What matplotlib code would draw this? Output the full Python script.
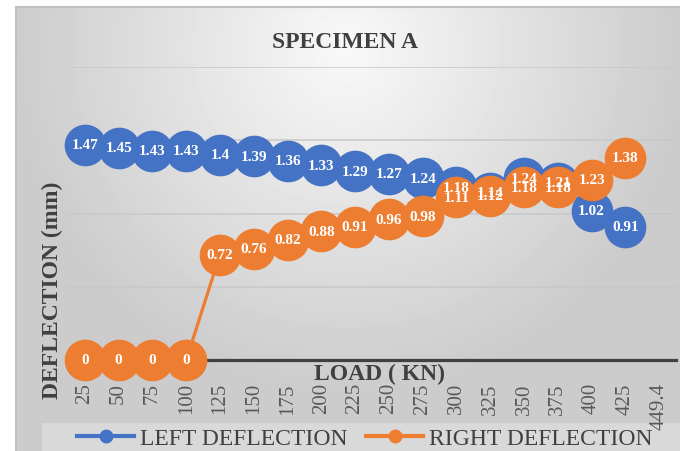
import numpy as np
import matplotlib
matplotlib.use("Agg")
import matplotlib.pyplot as plt
from matplotlib.patches import Rectangle
from matplotlib.lines import Line2D

plt.rcParams['font.family'] = ['Liberation Serif', 'DejaVu Serif']

# load steps (kN) and deflections (mm)
loads = ['25', '50', '75', '100', '125', '150', '175', '200', '225', '250',
         '275', '300', '325', '350', '375', '400', '425', '449.4']
left_defl = [1.47, 1.45, 1.43, 1.43, 1.4, 1.39, 1.36, 1.33, 1.29, 1.27,
             1.24, 1.18, 1.14, 1.24, 1.21, 1.02, 0.91]
right_defl = [0, 0, 0, 0, 0.72, 0.76, 0.82, 0.88, 0.91, 0.96,
              0.98, 1.11, 1.12, 1.18, 1.18, 1.23, 1.38]

BLUE = '#4472C4'
ORANGE = '#ED7D31'
DARK = '#404040'

W, H = 680, 452
fig = plt.figure(figsize=(W / 100, H / 100), dpi=100)

# shaded chart background
bg = fig.add_axes([16 / W, 0, 1 - 16 / W, 1 - 8 / H], zorder=-10)
yy, xx = np.mgrid[0:444, 0:664]
r = np.sqrt(((xx - 330) / 420.0) ** 2 + ((yy - 40) / 430.0) ** 2)
shade = np.clip(0.975 - 0.22 * r, 0.80, 1.0)
bg.imshow(shade, cmap='gray', vmin=0, vmax=1, aspect='auto',
          extent=[0, 1, 0, 1], origin='upper')
bg.set_axis_off()
fig.add_artist(Line2D([16 / W, 16 / W], [0, 1 - 8 / H], color='#c0c0c0', lw=1.5))
fig.add_artist(Line2D([16 / W, 1], [1 - 8 / H, 1 - 8 / H], color='#c0c0c0', lw=1.5))

# legend strip at the bottom (under the tick labels)
fig.add_artist(Rectangle((42 / W, 0), 1 - 42 / W, 28 / H, transform=fig.transFigure,
                         facecolor='#d9d9d9', edgecolor='none', zorder=-5))

ax = fig.add_axes([68 / W, 1 - 361 / H, (676 - 68) / W, (361 - 68) / H])
ax.set_facecolor('none')
x = np.arange(len(loads))

ax.plot(x[:len(left_defl)], left_defl, color=BLUE, lw=2.3, marker='o',
        markersize=29, clip_on=False, zorder=3)
ax.plot(x[:len(right_defl)], right_defl, color=ORANGE, lw=2.3, marker='o',
        markersize=29, clip_on=False, zorder=4)

for vals in (left_defl, right_defl):
    for xi, v in zip(x, vals):
        ax.text(xi, v, f'{v:g}', ha='center', va='center', color='white',
                fontsize=11, fontweight='bold', zorder=6, clip_on=False)

ax.set_xlim(-0.5, len(loads) - 0.5)
ax.set_ylim(0, 2)
ax.set_yticks([0.5, 1.0, 1.5, 2.0])
ax.yaxis.grid(True, color='#c8c8c8', lw=1.1)
ax.set_axisbelow(True)
ax.tick_params(axis='y', left=False, labelleft=False)
ax.set_xticks(x)
ax.set_xticklabels(loads, rotation=90, fontsize=15, color='#595959')
ax.tick_params(axis='x', length=0, pad=16)
for s in ('top', 'right', 'left'):
    ax.spines[s].set_visible(False)
ax.spines['bottom'].set_color(DARK)
ax.spines['bottom'].set_linewidth(2.3)
ax.spines['bottom'].set_zorder(2)

fig.text(345 / W, 1 - 42 / H, 'SPECIMEN A', ha='center', va='center',
         fontsize=17, fontweight='bold', color=DARK)
fig.text(380 / W, 1 - 374 / H, 'LOAD ( KN)', ha='center', va='center',
         fontsize=17, fontweight='bold', color=DARK)
fig.text(52 / W, 1 - 290 / H, 'DEFLECTION (mm)', ha='center', va='center',
         rotation=90, fontsize=17, fontweight='bold', color=DARK)

handles = [Line2D([], [], color=BLUE, lw=3, marker='o', markersize=9),
           Line2D([], [], color=ORANGE, lw=3, marker='o', markersize=9)]
leg = fig.legend(handles, ['LEFT DEFLECTION', 'RIGHT DEFLECTION'], ncol=2,
                 loc='center left', bbox_to_anchor=(56 / W, 1 - 439 / H),
                 frameon=False, fontsize=17, handlelength=2.4,
                 handletextpad=0.25, columnspacing=0.8, labelcolor=DARK)
leg.set_zorder(6)

fig.savefig('out.png', dpi=100)
